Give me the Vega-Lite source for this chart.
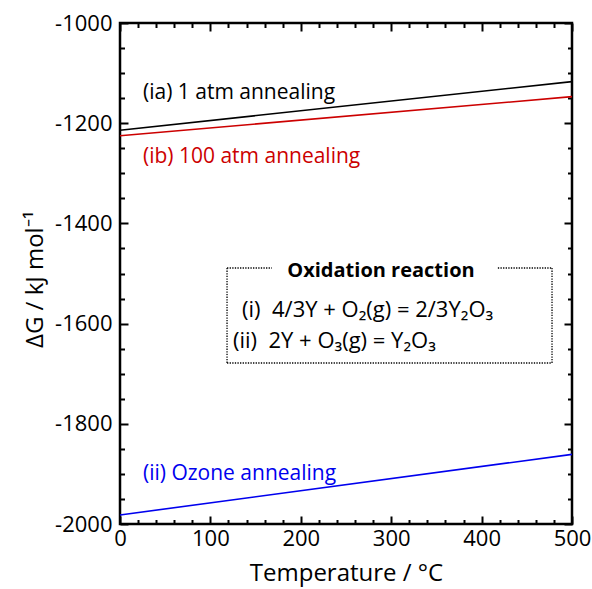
{
  "$schema": "https://vega.github.io/schema/vega-lite/v6.json",
  "width": 452,
  "height": 501,
  "autosize": {"type": "none"},
  "padding": {"left": 120, "top": 23, "right": 20, "bottom": 65},
  "background": "white",
  "config": {
    "view": {"stroke": "black", "strokeWidth": 2.5},
    "font": "Open Sans",
    "axis": {
      "domain": false, "grid": false,
      "tickColor": "black", "tickWidth": 2,
      "labelColor": "black", "titleColor": "black",
      "labelFont": "Open Sans", "titleFont": "Open Sans",
      "labelFontSize": 22, "titleFontSize": 24, "titleFontWeight": "normal",
      "labelFlush": false, "labelOverlap": false
    }
  },
  "datasets": {
    "lines": [
      {"T": 0, "G": -1214, "series": "(ia) 1 atm annealing"},
      {"T": 500, "G": -1117, "series": "(ia) 1 atm annealing"},
      {"T": 0, "G": -1225, "series": "(ib) 100 atm annealing"},
      {"T": 500, "G": -1147, "series": "(ib) 100 atm annealing"},
      {"T": 0, "G": -1982, "series": "(ii) Ozone annealing"},
      {"T": 500, "G": -1861, "series": "(ii) Ozone annealing"}
    ],
    "labels": [
      {"T": 25.4, "G": -1152, "series": "(ia) 1 atm annealing"},
      {"T": 25.4, "G": -1279, "series": "(ib) 100 atm annealing"},
      {"T": 25.4, "G": -1912, "series": "(ii) Ozone annealing"}
    ],
    "box": [
      {"x": 118.4, "x2": 168, "y": -1489, "y2": -1489},
      {"x": 418, "x2": 477.9, "y": -1489, "y2": -1489},
      {"x": 118.4, "x2": 477.9, "y": -1678.6, "y2": -1678.6},
      {"x": 118.4, "x2": 118.4, "y": -1489, "y2": -1678.6},
      {"x": 477.9, "x2": 477.9, "y": -1489, "y2": -1678.6}
    ],
    "boxtitle": [
      {"T": 288.7, "G": -1507, "text": "Oxidation reaction"}
    ],
    "boxtext": [
      {"T": 135, "G": -1587, "text": "(i) \u00a04/3Y + O₂(g) = 2/3Y₂O₃"},
      {"T": 125, "G": -1649, "text": "(ii) \u00a02Y + O₃(g) = Y₂O₃"}
    ]
  },
  "resolve": {"axis": {"x": "independent", "y": "independent"}},
  "layer": [
    {
      "data": {"name": "lines"},
      "mark": {"type": "line", "strokeWidth": 1.6},
      "encoding": {
        "x": {"field": "T", "type": "quantitative",
          "scale": {"domain": [0, 500], "nice": false, "zero": false},
          "axis": {"orient": "bottom", "values": [0, 100, 200, 300, 400, 500], "offset": -8, "tickSize": 8, "labelPadding": 4,
            "title": "Temperature / °C", "titleX": 226, "titleY": 64, "titleBaseline": "alphabetic", "titleAlign": "center"}},
        "y": {"field": "G", "type": "quantitative",
          "scale": {"domain": [-2000, -1000], "nice": false, "zero": false},
          "axis": {"orient": "left", "values": [-2000, -1800, -1600, -1400, -1200, -1000], "offset": -8, "tickSize": 8, "labelPadding": 8,
            "labelExpr": "datum.value < 0 ? '-' + abs(datum.value) : '' + datum.value",
            "title": "ΔG / kJ mol⁻¹", "titleX": -86, "titleY": 256, "titleBaseline": "alphabetic", "titleAlign": "center", "titleAngle": -90}},
        "color": {"field": "series", "type": "nominal",
          "scale": {"domain": ["(ia) 1 atm annealing", "(ib) 100 atm annealing", "(ii) Ozone annealing"], "range": ["#000000", "#cc0000", "#0000ee"]},
          "legend": null}
      }
    },
    {
      "data": {"name": "labels"},
      "mark": {"type": "text", "align": "left", "baseline": "alphabetic", "fontSize": 21},
      "encoding": {
        "x": {"field": "T", "type": "quantitative",
          "axis": {"orient": "bottom", "values": [20, 40, 60, 80, 120, 140, 160, 180, 220, 240, 260, 280, 320, 340, 360, 380, 420, 440, 460, 480], "offset": -4.5, "tickSize": 4.5, "labels": false, "title": null}},
        "y": {"field": "G", "type": "quantitative",
          "axis": {"orient": "left", "values": [-1950, -1900, -1850, -1750, -1700, -1650, -1550, -1500, -1450, -1350, -1300, -1250, -1150, -1100, -1050], "offset": -4.5, "tickSize": 4.5, "labels": false, "title": null}},
        "text": {"field": "series"},
        "color": {"field": "series", "type": "nominal", "legend": null}
      }
    },
    {
      "data": {"name": "box"},
      "mark": {"type": "rule", "color": "black", "strokeWidth": 1.3, "strokeDash": [1.3, 1.3]},
      "encoding": {
        "x": {"field": "x", "type": "quantitative",
          "axis": {"orient": "top", "values": [0, 100, 200, 300, 400, 500], "offset": -8, "tickSize": 8, "labels": false, "title": null}},
        "x2": {"field": "x2"},
        "y": {"field": "y", "type": "quantitative",
          "axis": {"orient": "right", "values": [-2000, -1800, -1600, -1400, -1200, -1000], "offset": -8, "tickSize": 8, "labels": false, "title": null}},
        "y2": {"field": "y2"}
      }
    },
    {
      "data": {"name": "boxtext"},
      "mark": {"type": "text", "align": "left", "baseline": "alphabetic", "fontSize": 22, "color": "black"},
      "encoding": {
        "x": {"field": "T", "type": "quantitative",
          "axis": {"orient": "top", "values": [20, 40, 60, 80, 120, 140, 160, 180, 220, 240, 260, 280, 320, 340, 360, 380, 420, 440, 460, 480], "offset": -4.5, "tickSize": 4.5, "labels": false, "title": null}},
        "y": {"field": "G", "type": "quantitative",
          "axis": {"orient": "right", "values": [-1950, -1900, -1850, -1750, -1700, -1650, -1550, -1500, -1450, -1350, -1300, -1250, -1150, -1100, -1050], "offset": -4.5, "tickSize": 4.5, "labels": false, "title": null}},
        "text": {"field": "text"}
      }
    },
    {
      "data": {"name": "boxtitle"},
      "mark": {"type": "text", "align": "center", "baseline": "alphabetic", "fontSize": 20, "fontWeight": "bold", "color": "black"},
      "encoding": {
        "x": {"field": "T", "type": "quantitative", "axis": null},
        "y": {"field": "G", "type": "quantitative", "axis": null},
        "text": {"field": "text"}
      }
    }
  ]
}
